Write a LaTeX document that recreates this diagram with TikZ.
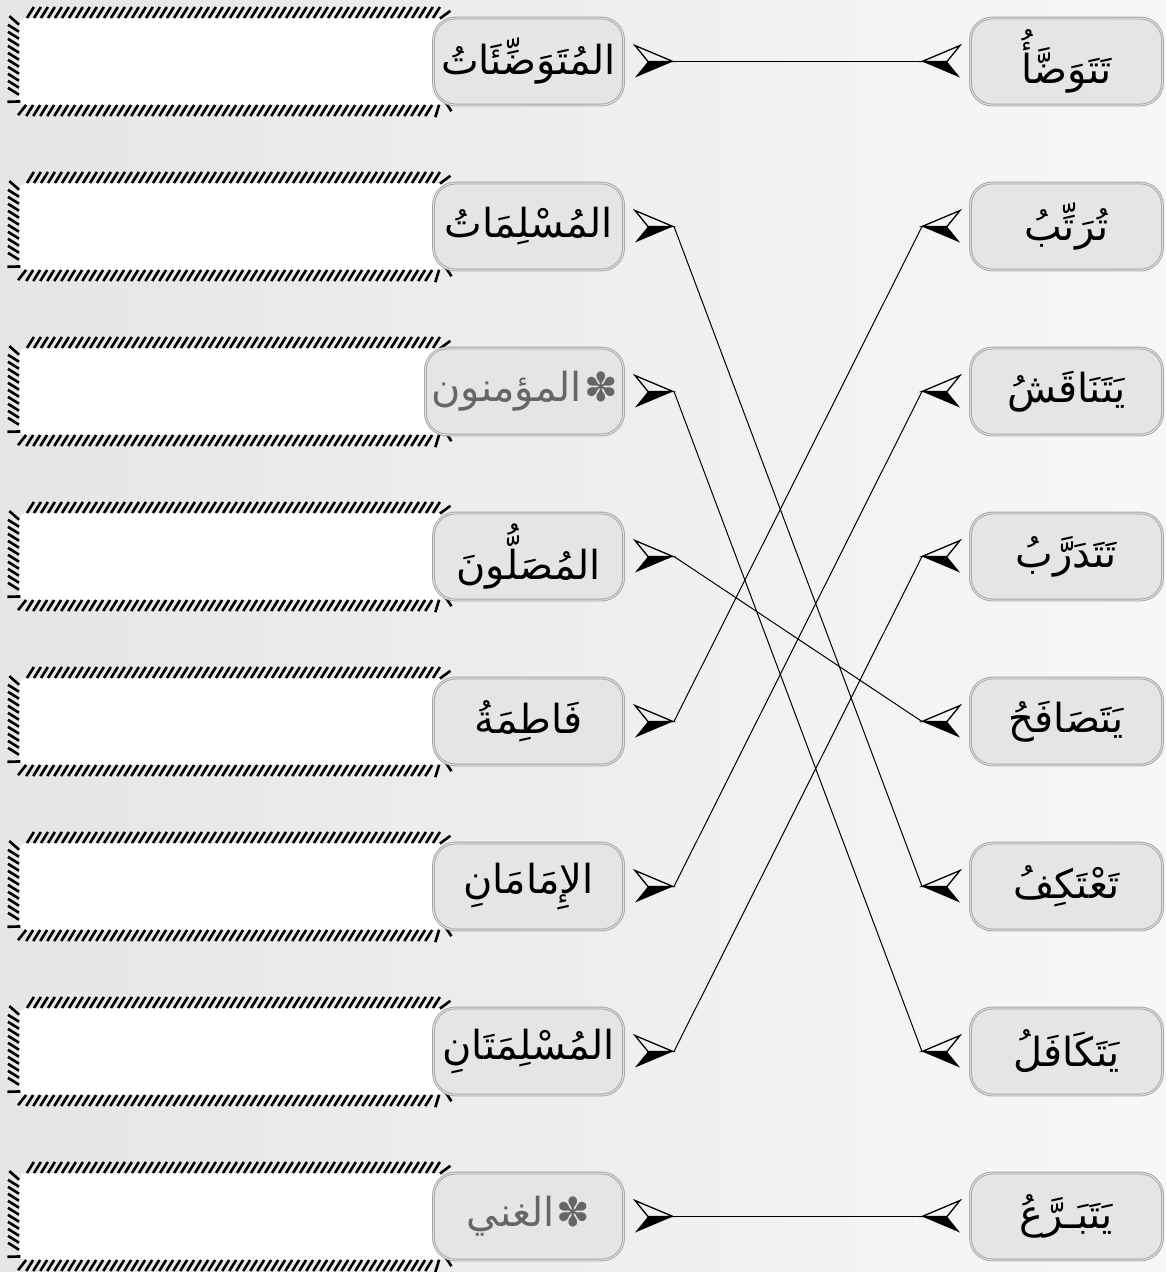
\documentclass[tikz,border=0pt]{standalone}
\usepackage{fontspec}
\newfontfamily\arabicfont[Script=Arabic]{DejaVu Sans}
\TeXXeTstate=1
\usetikzlibrary{decorations.pathreplacing}
\begin{document}
\begin{tikzpicture}[x=1pt,y=-1pt,
  hatch/.style={draw=black, line width=2.6pt, rounded corners=8pt, decorate,
    decoration={border, segment length=7pt, amplitude=13pt, angle=58}},
  wordbox/.style={draw=gray!70, double=gray!25, double distance=1pt, line width=0.9pt,
    fill=black!10, rounded corners=22pt, minimum height=87pt, inner sep=6pt,
    font=\arabicfont\fontsize{40}{48}\selectfont},
  lnode/.style={wordbox, minimum width=190pt, anchor=east},
  rnode/.style={wordbox, minimum width=192pt, anchor=west},
  dim/.style={text=black!60},
  conn/.style={draw=black, line width=1pt},
  larrow/.pic={\draw[line width=1.3pt, line join=miter] (0,0) -- (-38,-16) -- (-25,0) -- cycle;
               \fill (0,0) -- (-25,0) -- (-38,16) -- cycle;},
  rarrow/.pic={\draw[line width=1.3pt, line join=miter] (0,0) -- (38,-16) -- (25,0) -- cycle;
               \fill (0,0) -- (25,0) -- (38,16) -- cycle;}
]
\useasboundingbox (0,0) rectangle (1166,1272);
\shade[left color=black!10, right color=black!3] (0,0) rectangle (1166,1272);

\foreach \i in {1,...,8}{
  \pgfmathsetmacro\c{61.5+165*(\i-1)}
  \fill[white, rounded corners=8pt] (19,\c-43.5) rectangle (445,\c+43.5);
  \draw[hatch] (19,\c-43.5) -- (445,\c-43.5) -- (445,\c+43.5) -- (19,\c+43.5) -- cycle;
  \pic at (673,\c) {larrow};
  \pic at (922,\c) {rarrow};
  \coordinate (la\i) at (674,\c);
  \coordinate (ra\i) at (922,\c);
}

\node[lnode] (L1) at (624,61.5)  {\beginR المُتَوَضِّئَاتُ\endR};
\node[lnode] (L2) at (624,226.5) {\beginR المُسْلِمَاتُ\endR};
\node[lnode,dim] (L3) at (624,391.5) {\beginR ✽\kern2pt المؤمنون\endR};
\node[lnode] (L4) at (624,556.5) {\beginR المُصَلُّونَ\endR};
\node[lnode] (L5) at (624,721.5) {\beginR فَاطِمَةُ\endR};
\node[lnode] (L6) at (624,886.5) {\beginR الإِمَامَانِ\endR};
\node[lnode] (L7) at (624,1051.5) {\beginR المُسْلِمَتَانِ\endR};
\node[lnode,dim] (L8) at (624,1216.5) {\beginR ✽\kern2pt الغني\endR};

\node[rnode] (R1) at (970,61.5)  {\beginR تَتَوَضَّأُ\endR};
\node[rnode] (R2) at (970,226.5) {\beginR تُرَتِّبُ\endR};
\node[rnode] (R3) at (970,391.5) {\beginR يَتَنَاقَشُ\endR};
\node[rnode] (R4) at (970,556.5) {\beginR تَتَدَرَّبُ\endR};
\node[rnode] (R5) at (970,721.5) {\beginR يَتَصَافَحُ\endR};
\node[rnode] (R6) at (970,886.5) {\beginR تَعْتَكِفُ\endR};
\node[rnode] (R7) at (970,1051.5) {\beginR يَتَكَافَلُ\endR};
\node[rnode] (R8) at (970,1216.5) {\beginR يَتَبَـرَّعُ\endR};

\draw[conn] (la1) -- (ra1);
\draw[conn] (la2) -- (ra6);
\draw[conn] (la3) -- (ra7);
\draw[conn] (la4) -- (ra5);
\draw[conn] (la5) -- (ra2);
\draw[conn] (la6) -- (ra3);
\draw[conn] (la7) -- (ra4);
\draw[conn] (la8) -- (ra8);
\end{tikzpicture}
\end{document}
